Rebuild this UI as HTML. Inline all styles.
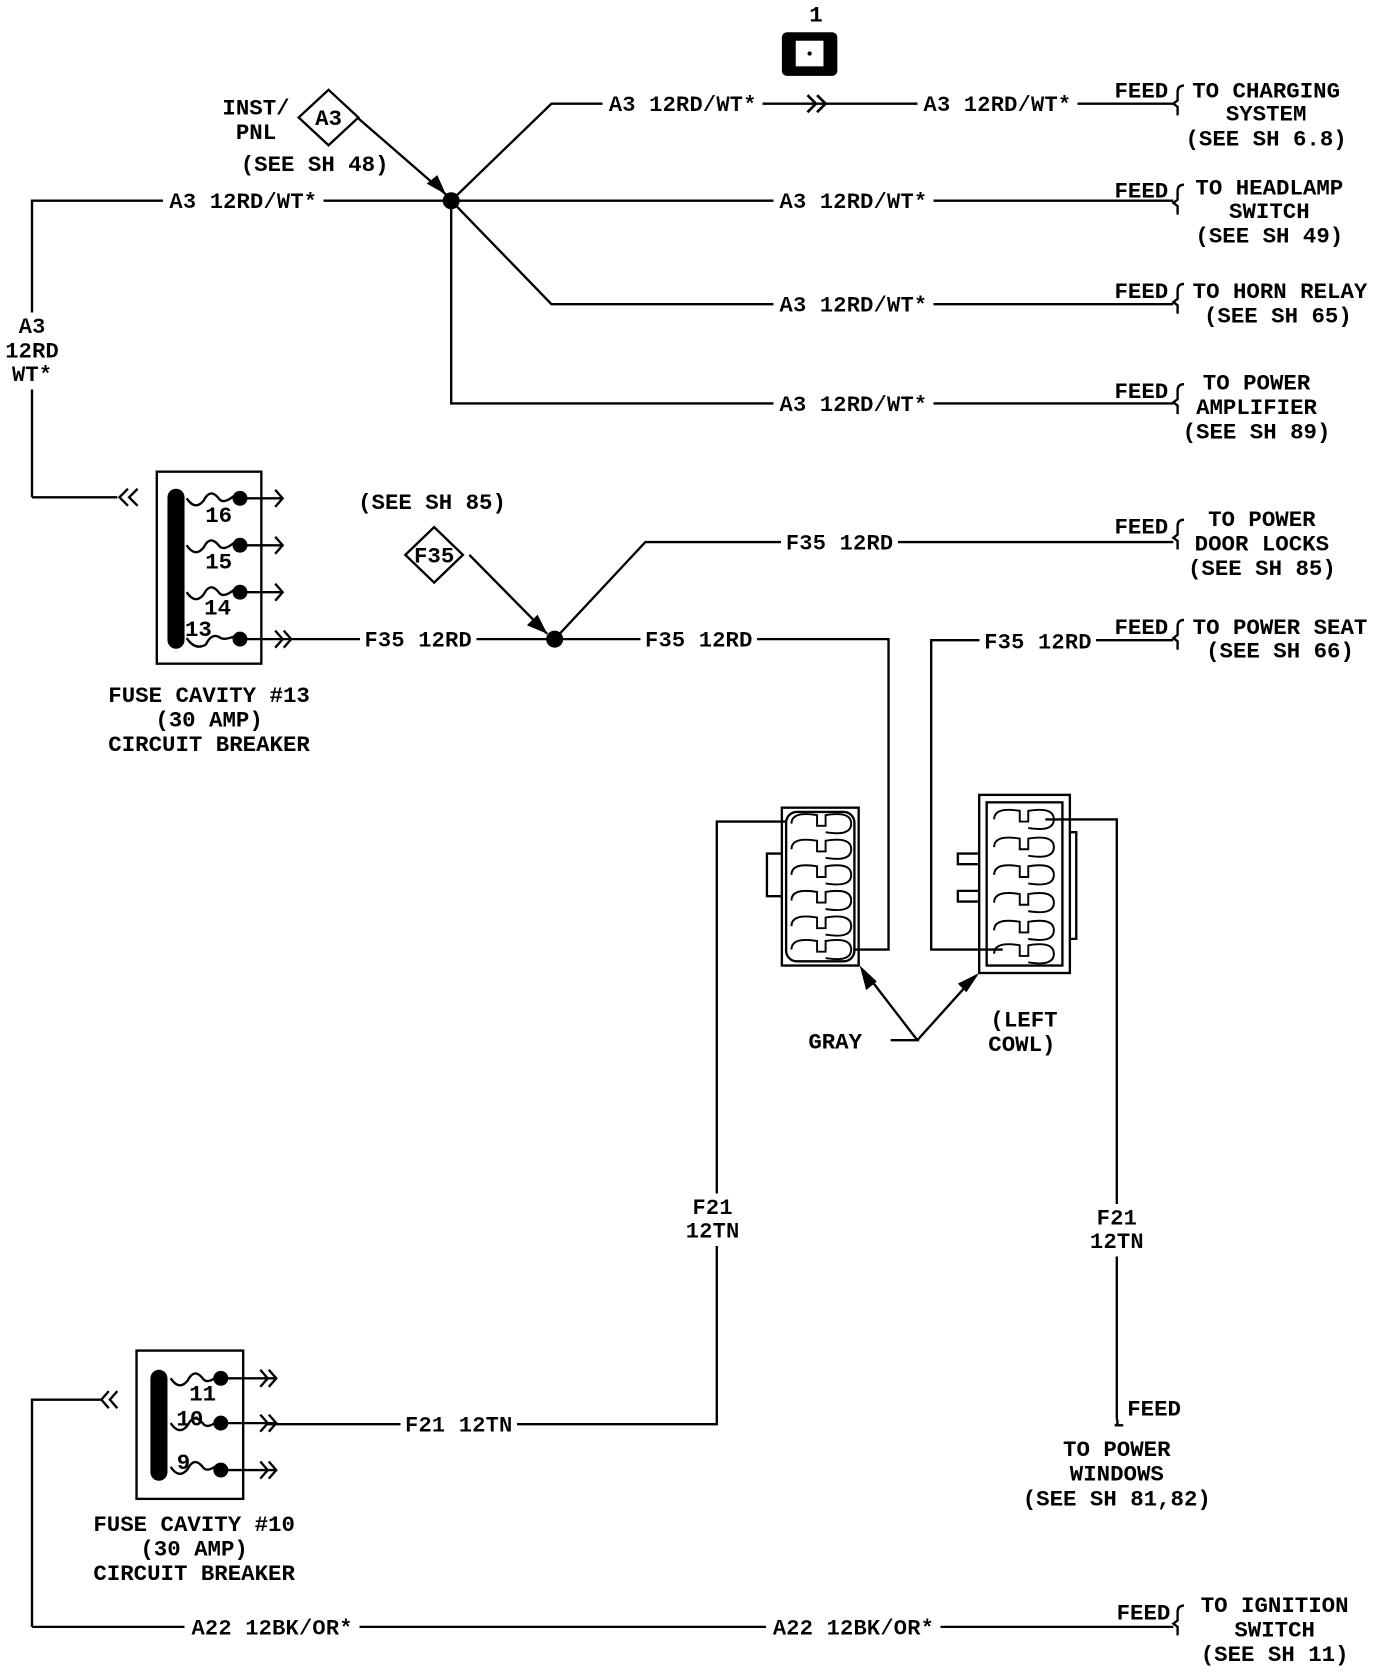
<!DOCTYPE html>
<html><head><meta charset="utf-8"><style>
html,body{margin:0;padding:0;background:#fff}
svg{display:block}
text{font-family:"Liberation Mono",monospace;font-weight:bold;font-size:21px;fill:#000}
.l{filter:url(#bg)}
</style></head><body>
<svg width="1392" height="1674" viewBox="0 0 1305 1569" xmlns="http://www.w3.org/2000/svg">
<defs><filter id="bg" x="-0.04" y="-0.05" width="1.08" height="1.1"><feFlood flood-color="#fff"/><feComposite in="SourceGraphic"/></filter></defs>
<g fill="none" stroke="#000" stroke-width="2.2">
<polyline points="30,466 30,188 1100,188"/>
<polyline points="423,188 517,97 1100,97"/>
<polyline points="423,188 517,285 1100,285"/>
<polyline points="423,188 423,378 1100,378"/>
<line x1="335" y1="110" x2="418" y2="182"/>
<path d="M757,89 l8,8 l-8,8 M766,89 l8,8 l-8,8" stroke-width="2.5"/>
<path d="M1110,80 q-6,0 -6,6 v8 l-4,3 l4,3 v8"/>
<path d="M1110,173 q-6,0 -6,6 v8 l-4,3 l4,3 v8"/>
<path d="M1110,266 q-6,0 -6,6 v8 l-4,3 l4,3 v8"/>
<path d="M1110,360 q-6,0 -6,6 v8 l-4,3 l4,3 v8"/>
<path d="M1110,487 q-6,0 -6,6 v8 l-4,3 l4,3 v8"/>
<path d="M1110,581 q-6,0 -6,6 v8 l-4,3 l4,3 v8"/>
<path d="M1110,1505 q-6,0 -6,6 v8 l-4,3 l4,3 v8"/>
<polyline points="30,466 110,466"/>
<path d="M120,458 l-8,8 l8,8 M129,458 l-8,8 l8,8"/>
<rect x="147" y="442" width="98" height="180"/>
<path d="M175,467 q8,12 16,2 q6,-12 14,-2 q4,6 14,-2 M175,511 q8,12 16,2 q6,-12 14,-2 q4,6 14,-2 M175,555 q8,12 16,2 q6,-12 14,-2 q4,6 14,-2 M175,598 q8,12 18,6 q6,-12 14,-6 q4,2 14,-2"/>
<line x1="225" y1="467" x2="265" y2="467"/><path d="M258,459 l7,8 l-7,8"/>
<line x1="225" y1="511" x2="265" y2="511"/><path d="M258,503 l7,8 l-7,8"/>
<line x1="225" y1="555" x2="265" y2="555"/><path d="M258,547 l7,8 l-7,8"/>
<line x1="225" y1="599" x2="520" y2="599"/><path d="M258,591 l7,8 l-7,8 M266,591 l7,8 l-7,8"/>
<line x1="440" y1="520" x2="513" y2="594"/>
<polyline points="520,599 605,508 1100,508"/>
<polyline points="520,599 833,599 833,890 800,890"/>
<polyline points="1100,600 873,600 873,890 940,890"/>
<rect x="733" y="757" width="72" height="148"/>
<rect x="737" y="761" width="64" height="140" rx="10"/>
<path d="M733,800 h-14 v40 h14" />
<rect x="918" y="745" width="85" height="167"/>
<rect x="925" y="752" width="71" height="153"/>
<path d="M918,800 h-20 v10 h20 M918,835 h-20 v10 h20"/>
<path d="M1003,780 h6 v100 h-6"/>
<g stroke-width="1.8">
<path d="M742,772 q0,-12 24,-8 v10 h8 v-10 q24,-4 24,8 q0,12 -24,8 M742,796 q0,-12 24,-8 v10 h8 v-10 q24,-4 24,8 q0,12 -24,8 M742,820 q0,-12 24,-8 v10 h8 v-10 q24,-4 24,8 q0,12 -24,8 M742,844 q0,-12 24,-8 v10 h8 v-10 q24,-4 24,8 q0,12 -24,8 M742,868 q0,-12 24,-8 v10 h8 v-10 q24,-4 24,8 q0,12 -24,8 M742,890 q0,-12 24,-8 v10 h8 v-10 q24,-4 24,8 q0,12 -24,8"/>
<path d="M932,768 q0,-12 24,-8 v10 h8 v-10 q24,-4 24,8 q0,12 -24,8 M932,794 q0,-12 24,-8 v10 h8 v-10 q24,-4 24,8 q0,12 -24,8 M932,820 q0,-12 24,-8 v10 h8 v-10 q24,-4 24,8 q0,12 -24,8 M932,846 q0,-12 24,-8 v10 h8 v-10 q24,-4 24,8 q0,12 -24,8 M932,872 q0,-12 24,-8 v10 h8 v-10 q24,-4 24,8 q0,12 -24,8 M932,894 q0,-12 24,-8 v10 h8 v-10 q24,-4 24,8 q0,12 -24,8"/>
</g>
<polyline points="980,768 1047,768 1047,1330"/>
<polyline points="737,770 672,770 672,1335 250,1335"/>
<path d="M1047,1330 q2,6 -2,6 h8"/>
<polyline points="835,975 860,975 810,910"/>
<line x1="860" y1="975" x2="914" y2="915"/>
<rect x="128" y="1266" width="100" height="139"/>
<polyline points="30,1525 30,1312 95,1312"/>
<path d="M102,1304 l-7,8 l7,8 M110,1304 l-7,8 l7,8"/>
<path d="M160,1292 q8,12 16,2 q6,-12 14,-2 q4,6 14,-2 M160,1334 q8,12 16,2 q6,-12 14,-2 q4,6 14,-2 M160,1375 q8,12 16,2 q6,-12 14,-2 q4,6 14,-2"/>
<line x1="207" y1="1292" x2="258" y2="1292"/><path d="M244,1284 l7,8 l-7,8 M252,1284 l7,8 l-7,8"/>
<line x1="207" y1="1334" x2="258" y2="1334"/><path d="M244,1326 l7,8 l-7,8 M252,1326 l7,8 l-7,8"/>
<line x1="207" y1="1378" x2="258" y2="1378"/><path d="M244,1370 l7,8 l-7,8 M252,1370 l7,8 l-7,8"/>
<line x1="30" y1="1525" x2="1100" y2="1525"/>
<polygon points="308,84 336,110 308,136 280,110" fill="#fff"/>
<polygon points="407,494 434,520 407,546 380,520" fill="#fff"/>
</g>
<g fill="#000">
<circle cx="423" cy="188" r="8"/><circle cx="520" cy="599" r="8"/>
<polygon points="418,182 400,172 410,164"/>
<polygon points="513,594 494,586 504,576"/>
<polygon points="806,905 812,928 822,920"/>
<polygon points="918,912 898,922 906,930"/>
<rect x="157" y="458" width="16" height="150" rx="8"/>
<circle cx="225" cy="467" r="7"/><circle cx="225" cy="511" r="7"/><circle cx="225" cy="555" r="7"/><circle cx="225" cy="599" r="7"/>
<rect x="141" y="1284" width="16" height="104" rx="8"/>
<circle cx="207" cy="1292" r="7"/><circle cx="207" cy="1334" r="7"/><circle cx="207" cy="1378" r="7"/>
<rect x="733" y="30" width="52" height="41" rx="5"/>
<rect x="746" y="38" width="26" height="24" fill="#fff"/>
<circle cx="759" cy="50" r="2"/>
</g>
<text x="765" y="20" text-anchor="middle" font-size="18">1</text>
<text x="240" y="107" text-anchor="middle">INST/</text>
<text x="240" y="130" text-anchor="middle">PNL</text>
<text x="308" y="117" text-anchor="middle" font-size="19">A3</text>
<text x="295" y="160" text-anchor="middle">(SEE SH 48)</text>
<text class="l" x="640" y="104" text-anchor="middle">A3 12RD/WT*</text>
<text class="l" x="935" y="104" text-anchor="middle">A3 12RD/WT*</text>
<text class="l" x="228" y="195" text-anchor="middle">A3 12RD/WT*</text>
<text class="l" x="800" y="195" text-anchor="middle">A3 12RD/WT*</text>
<text class="l" x="800" y="292" text-anchor="middle">A3 12RD/WT*</text>
<text class="l" x="800" y="385" text-anchor="middle">A3 12RD/WT*</text>
<text class="l" x="30" y="312" text-anchor="middle">A3</text>
<text class="l" x="30" y="335" text-anchor="middle">12RD</text>
<text class="l" x="30" y="357" text-anchor="middle">WT*</text>
<text x="1070" y="91" text-anchor="middle">FEED</text>
<text x="1187" y="91" text-anchor="middle">TO CHARGING</text>
<text x="1187" y="113" text-anchor="middle">SYSTEM</text>
<text x="1187" y="136" text-anchor="middle">(SEE SH 6.8)</text>
<text x="1070" y="185" text-anchor="middle">FEED</text>
<text x="1190" y="182" text-anchor="middle">TO HEADLAMP</text>
<text x="1190" y="204" text-anchor="middle">SWITCH</text>
<text x="1190" y="227" text-anchor="middle">(SEE SH 49)</text>
<text x="1070" y="279" text-anchor="middle">FEED</text>
<text x="1200" y="279" text-anchor="middle">TO HORN RELAY</text>
<text x="1198" y="302" text-anchor="middle">(SEE SH 65)</text>
<text x="1070" y="373" text-anchor="middle">FEED</text>
<text x="1178" y="365" text-anchor="middle">TO POWER</text>
<text x="1178" y="388" text-anchor="middle">AMPLIFIER</text>
<text x="1178" y="411" text-anchor="middle">(SEE SH 89)</text>
<text x="405" y="477" text-anchor="middle">(SEE SH 85)</text>
<text x="407" y="527" text-anchor="middle" font-size="19">F35</text>
<text x="1070" y="500" text-anchor="middle">FEED</text>
<text x="1183" y="493" text-anchor="middle">TO POWER</text>
<text x="1183" y="516" text-anchor="middle">DOOR LOCKS</text>
<text x="1183" y="539" text-anchor="middle">(SEE SH 85)</text>
<text x="1070" y="594" text-anchor="middle">FEED</text>
<text x="1200" y="594" text-anchor="middle">TO POWER SEAT</text>
<text x="1200" y="616" text-anchor="middle">(SEE SH 66)</text>
<text class="l" x="787" y="515" text-anchor="middle">F35 12RD</text>
<text class="l" x="392" y="606" text-anchor="middle">F35 12RD</text>
<text class="l" x="655" y="606" text-anchor="middle">F35 12RD</text>
<text class="l" x="973" y="608" text-anchor="middle">F35 12RD</text>
<text x="205" y="489" text-anchor="middle" font-size="19">16</text>
<text x="205" y="533" text-anchor="middle" font-size="19">15</text>
<text x="204" y="576" text-anchor="middle" font-size="19">14</text>
<text x="186" y="596" text-anchor="middle" font-size="19">13</text>
<text x="196" y="658" text-anchor="middle">FUSE CAVITY #13</text>
<text x="196" y="681" text-anchor="middle">(30 AMP)</text>
<text x="196" y="704" text-anchor="middle">CIRCUIT BREAKER</text>
<text x="783" y="983" text-anchor="middle">GRAY</text>
<text x="960" y="962" text-anchor="middle">(LEFT</text>
<text x="958" y="985" text-anchor="middle">COWL)</text>
<text class="l" x="668" y="1138" text-anchor="middle">F21</text>
<text class="l" x="668" y="1160" text-anchor="middle">12TN</text>
<text class="l" x="1047" y="1148" text-anchor="middle">F21</text>
<text class="l" x="1047" y="1170" text-anchor="middle">12TN</text>
<text class="l" x="430" y="1342" text-anchor="middle">F21 12TN</text>
<text x="1082" y="1327" text-anchor="middle">FEED</text>
<text x="1047" y="1365" text-anchor="middle">TO POWER</text>
<text x="1047" y="1388" text-anchor="middle">WINDOWS</text>
<text x="1047" y="1411" text-anchor="middle">(SEE SH 81,82)</text>
<text x="190" y="1313" text-anchor="middle" font-size="19">11</text>
<text x="178" y="1336" text-anchor="middle" font-size="19">10</text>
<text x="172" y="1377" text-anchor="middle" font-size="19">9</text>
<text x="182" y="1435" text-anchor="middle">FUSE CAVITY #10</text>
<text x="182" y="1458" text-anchor="middle">(30 AMP)</text>
<text x="182" y="1481" text-anchor="middle">CIRCUIT BREAKER</text>
<text class="l" x="255" y="1532" text-anchor="middle">A22 12BK/OR*</text>
<text class="l" x="800" y="1532" text-anchor="middle">A22 12BK/OR*</text>
<text x="1072" y="1518" text-anchor="middle">FEED</text>
<text x="1195" y="1511" text-anchor="middle">TO IGNITION</text>
<text x="1195" y="1534" text-anchor="middle">SWITCH</text>
<text x="1195" y="1557" text-anchor="middle">(SEE SH 11)</text>
</svg>
</body></html>
